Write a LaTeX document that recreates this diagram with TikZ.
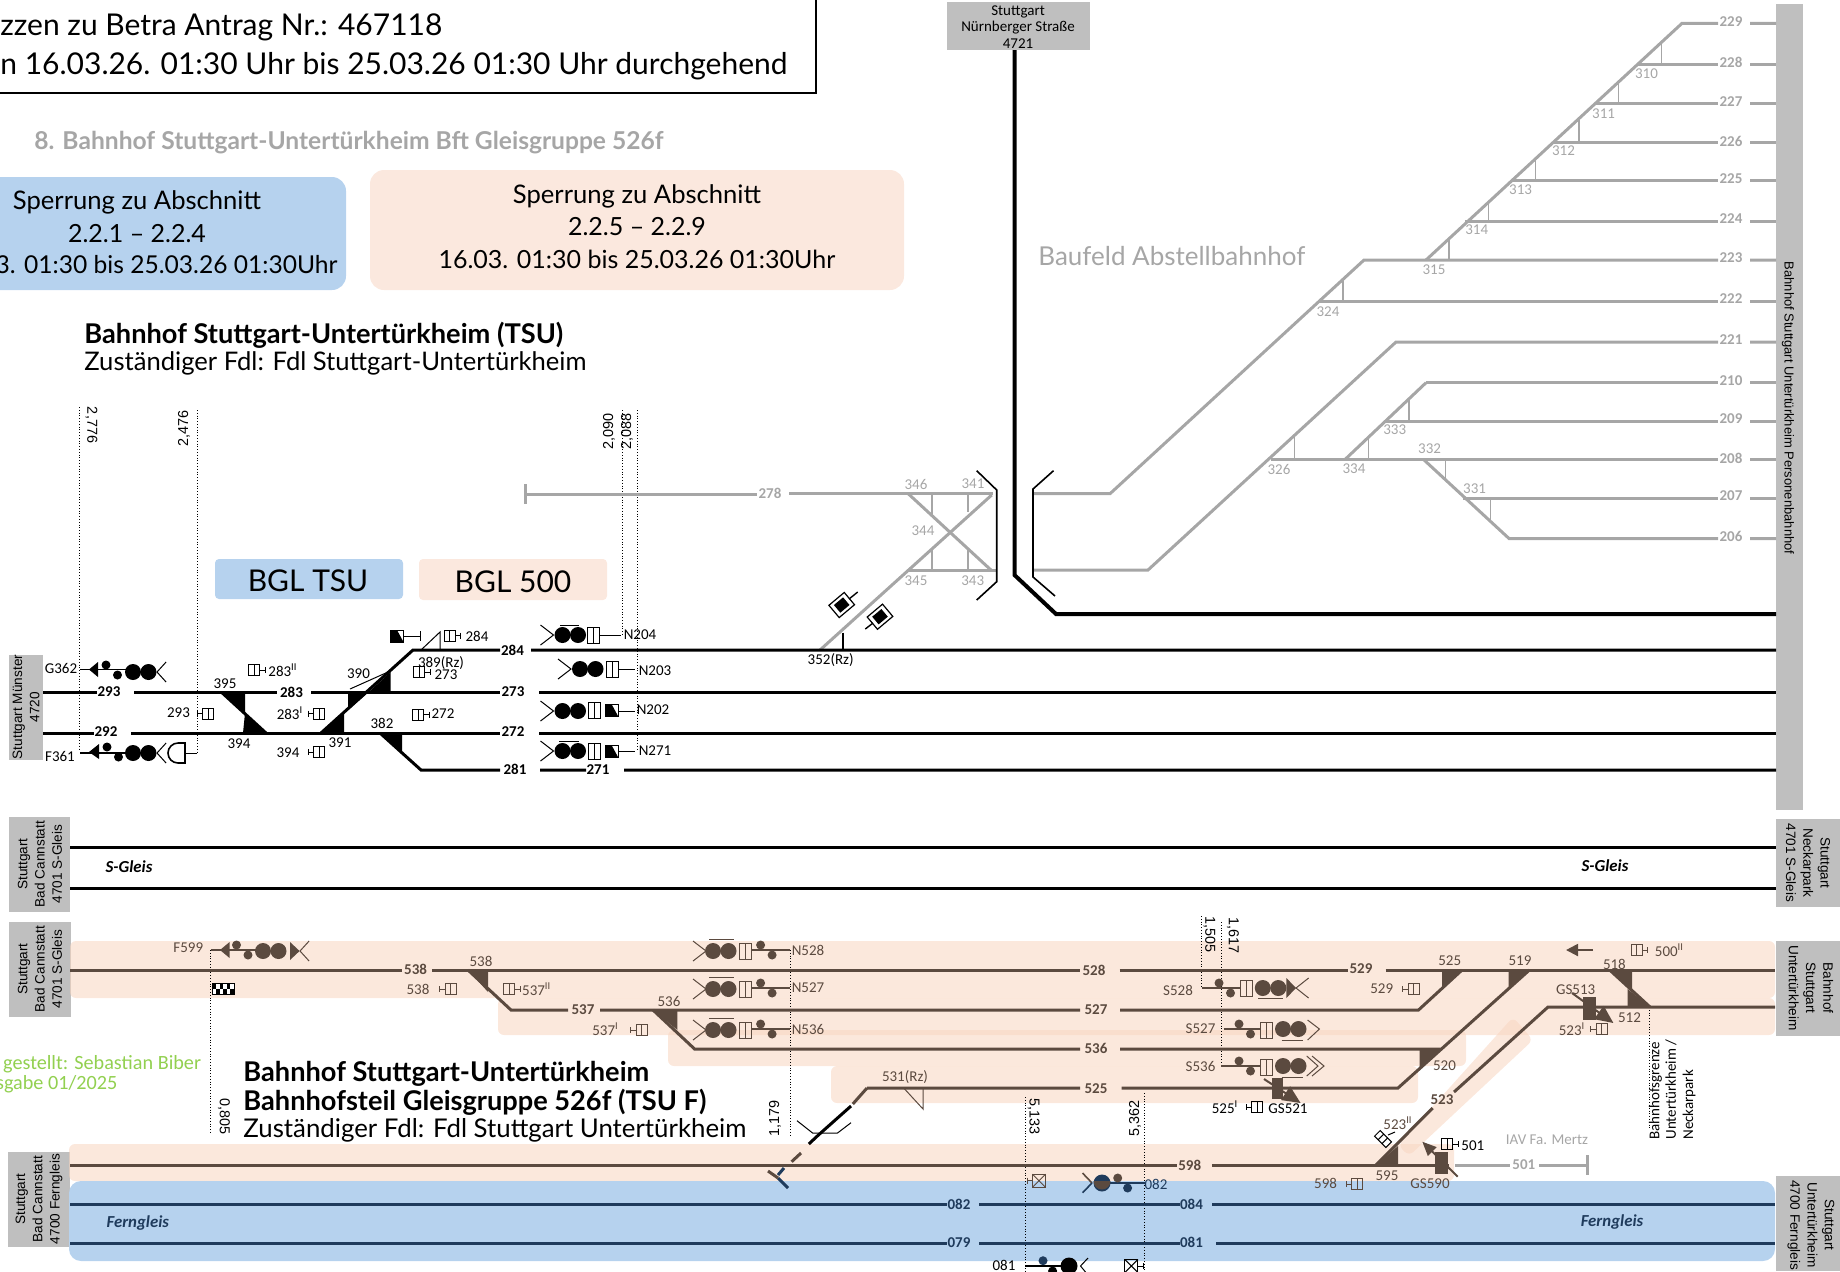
\documentclass[tikz,border=0pt]{standalone}
\usepackage{fontspec}
\setmainfont{Carlito}
\newfontfamily\bodyfont{Lato}
\newfontfamily\boxfont{Liberation Sans}
\usetikzlibrary{arrows.meta}

\definecolor{railgray}{HTML}{A6A6A6}
\definecolor{boxgray}{HTML}{BFBFBF}
\definecolor{railbrown}{HTML}{5B4A3F}
\definecolor{railnavy}{HTML}{1F3B5C}
\definecolor{skyband}{HTML}{B6D2EE}
\definecolor{peachband}{HTML}{F8D5C0}
\definecolor{peachbox}{HTML}{FBE8DE}
\definecolor{authorgreen}{HTML}{92D050}

\tikzset{
  trk/.style={line width=1.5pt},
  thinl/.style={line width=.5pt},
  km/.style={line width=.4pt,densely dotted},
  band/.style={fill=peachband,opacity=.55,rounded corners=3pt},
  lab/.style={inner sep=0pt,font=\fontsize{7.5}{8}\selectfont},
  kmlab/.style={lab,font=\boxfont\fontsize{7.2}{8}\selectfont},
  grayb/.style={fill=boxgray,draw=none},
  sidetxt/.style={inner sep=0pt,align=center,font=\boxfont\fontsize{6.8}{8.6}\selectfont},
  trackit/.style={font=\fontsize{8.4}{9}\selectfont\bfseries\itshape},
  pics/gbox/.style={code={
    \draw[thinl] (-5.5,-5.5) rectangle (5.5,5.5);
    \draw[thinl] (0,-5.5) -- (0,5.5);
    \draw[thinl] (5.5,0) -- (11,0);
    \draw[thinl] (11,-3) -- (11,3);
  }},
  pics/xbox/.style={code={
    \draw[thinl] (-6.5,-6.5) rectangle (6.5,6.5);
    \draw[thinl] (-6.5,-6.5) -- (6.5,6.5) (-6.5,6.5) -- (6.5,-6.5);
    \draw[thinl] (6.5,0) -- (12,0);
    \draw[thinl] (12,-3) -- (12,3);
  }},
  pics/sigbox/.style={code={
    \draw[thinl] (-6,-8) rectangle (6,8);
    \draw[thinl] (0,-8) -- (0,8);
  }},
  pics/halfbox/.style={code={
    \draw[thinl] (-6.5,-6) rectangle (6.5,6);
    \fill (-6.5,-6) -- (0,-6) -- (6.5,6) -- (-6.5,6) -- cycle;
  }},
  pics/fork/.style={code={
    \draw[thinl] (-13,-10) -- (0,0) -- (-13,10);
  }},
  pics/heads/.style={code={
    \fill (0,0) circle[radius=8];
    \fill (15.5,0) circle[radius=8];
  }},
  pics/duo/.style={code={
    \fill (0,-5) circle[radius=4.5];
    \fill (11.5,5) circle[radius=4.5];
  }},
  pics/rhomb/.style={code={
    \draw[line width=.6pt,fill=white,rotate=40] (-10,-8) rectangle (10,8);
    \fill[rotate=40] (-6,-5) rectangle (6,5);
  }},
}

\begin{document}
\begin{tikzpicture}[x=.5pt,y=-.5pt]
\useasboundingbox (0,0) rectangle (1840,1271);

% header
\draw[thinl,line width=.6pt] (-5,-5) -- (816,-5) -- (816,93) -- (-5,93);
\node[anchor=west,inner sep=0pt,font=\bodyfont\fontsize{15}{16}\selectfont] (h1) at (0,27) {zzen zu Betra Antrag Nr.: 467118};
\node[anchor=west,inner sep=0pt,font=\bodyfont\fontsize{15}{16}\selectfont] (h2) at (0,66) {n 16.03.26. 01:30 Uhr bis 25.03.26 01:30 Uhr durchgehend};
\node[anchor=west,inner sep=0pt,text=railgray,font=\bodyfont\bfseries\fontsize{12.3}{13}\selectfont] (h3) at (34,143) {8. Bahnhof Stuttgart-Untertürkheim Bft Gleisgruppe 526f};
\fill[skyband,rounded corners=7pt] (-20,177) rectangle (346,290);
\fill[peachbox,rounded corners=7pt] (370,170) rectangle (904,290);
\node[inner sep=0pt,font=\bodyfont\fontsize{12.8}{14}\selectfont] (s1) at (137,202) {Sperrung zu Abschnitt};
\node[inner sep=0pt,font=\bodyfont\fontsize{12.5}{14}\selectfont] (s2) at (137,234) {2.2.1 – 2.2.4};
\node[anchor=east,inner sep=0pt,font=\bodyfont\fontsize{12.3}{14}\selectfont] (s3) at (338,265) {3. 01:30 bis 25.03.26 01:30Uhr};
\node[inner sep=0pt,font=\bodyfont\fontsize{12.8}{14}\selectfont] (p1) at (637,196) {Sperrung zu Abschnitt};
\node[inner sep=0pt,font=\bodyfont\fontsize{12.5}{14}\selectfont] (p2) at (637,227) {2.2.5 – 2.2.9};
\node[inner sep=0pt,font=\bodyfont\fontsize{12.5}{14}\selectfont] (p3) at (637,259) {16.03. 01:30 bis 25.03.26 01:30Uhr};
\node[anchor=west,inner sep=0pt,font=\bodyfont\bfseries\fontsize{13.6}{15}\selectfont] (t1) at (84,335) {Bahnhof Stuttgart-Untertürkheim (TSU)};
\node[anchor=west,inner sep=0pt,font=\bodyfont\fontsize{12.8}{14}\selectfont] (t2) at (84,363) {Zuständiger Fdl: Fdl Stuttgart-Untertürkheim};
\node[anchor=west,inner sep=0pt,text=railgray,font=\bodyfont\fontsize{13}{14}\selectfont] (baufeld) at (1038,256) {Baufeld Abstellbahnhof};

% BGL tags
\fill[skyband,rounded corners=2pt] (215,559) rectangle (403,599);
\fill[peachbox,rounded corners=2pt] (419,559) rectangle (607,600);
\node[inner sep=0pt,font=\bodyfont\fontsize{15}{16}\selectfont] (bgl1) at (308,581) {BGL TSU};
\node[inner sep=0pt,font=\bodyfont\fontsize{15}{16}\selectfont] (bgl2) at (513,582) {BGL 500};

% station boxes
\fill[grayb] (9,655) rectangle (43,760);
\fill[grayb] (9,817) rectangle (70,912);
\fill[grayb] (9,922) rectangle (71,1017);
\fill[grayb] (8,1152) rectangle (70,1247);
\fill[grayb] (947,2) rectangle (1090,50);
\fill[grayb] (1776,4) rectangle (1803,810);
\fill[grayb] (1776,819) rectangle (1840,907);
\fill[grayb] (1776,941) rectangle (1840,1036);
\fill[grayb] (1776,1176) rectangle (1840,1271);
\node[sidetxt,rotate=90] (bmuenster) at (26,707) {Stuttgart Münster\\4720};
\node[sidetxt,rotate=90] (bcann1) at (40,864) {Stuttgart\\Bad Cannstatt\\4701 S-Gleis};
\node[sidetxt,rotate=90] (bcann2) at (40,969) {Stuttgart\\Bad Cannstatt\\4701 S-Gleis};
\node[sidetxt,rotate=90] (bcann3) at (39,1199) {Stuttgart\\Bad Cannstatt\\4700 Ferngleis};
\node[sidetxt,font=\fontsize{7.5}{8.2}\selectfont] (bnuern) at (1018,27) {Stuttgart\\Nürnberger Straße\\4721};
\node[sidetxt,rotate=-90,font=\boxfont\fontsize{6.5}{7}\selectfont] (bperson) at (1788,408) {Bahnhof Stuttgart Untertürkheim Personenbahnhof};
\node[sidetxt,rotate=-90] (bneck) at (1808,863) {Stuttgart\\Neckarpark\\4701 S-Gleis};
\node[sidetxt,rotate=-90] (bunter) at (1811,988) {Bahnhof\\Stuttgart\\Untertürkheim};
\node[sidetxt,rotate=-90] (bfern) at (1811,1225) {Stuttgart\\Untertürkheim\\4700 Ferngleis};

% bands
\fill[band] (70,941) rectangle (1775,998);
\fill[band] (498,998) rectangle (1775,1035);
\fill[band] (668,1030) rectangle (1466,1066);
\fill[band] (831,1066) rectangle (1418,1103);
\fill[band] (69,1144) rectangle (1454,1181);
\fill[band] (1398,1145) -- (1513,1017) -- (1533,1040) -- (1409,1156) -- cycle;
\fill[skyband,rounded corners=6pt] (69,1181) rectangle (1775,1261);

% km lines
\draw[km] (79.5,407) -- (79.5,750);
\draw[km] (197,410) -- (197,752);
\draw[km] (622,410) -- (622,635);
\draw[km] (637,410) -- (637,751);
\draw[km] (210.7,950) -- (210.7,1133);
\draw[km] (790.5,950) -- (790.5,1135);
\draw[km] (1201.5,916) -- (1201.5,988);
\draw[km] (1221,922) -- (1221,1066);
\draw[km] (1025,1097) -- (1025,1271);
\draw[km] (1144.8,1093) -- (1144.8,1271);
\draw[km] (1649.8,1007) -- (1649.8,1130);
\node[kmlab,rotate=-90] (k1) at (91.5,425) {2,776};
\node[kmlab,rotate=90] (k2) at (184,428) {2,476};
\node[kmlab,rotate=90] (k3) at (609,431) {2,090};
\node[kmlab,rotate=90] (k4) at (627,431) {2,088};
\node[kmlab,rotate=-90] (k5) at (224,1116) {0,805};
\node[kmlab,rotate=90] (k6) at (775,1118) {1,179};
\node[kmlab,rotate=-90] (k7) at (1209.5,934) {1,505};
\node[kmlab,rotate=-90] (k8) at (1233,935) {1,617};
\node[kmlab,rotate=-90] (k9) at (1033.8,1116) {5,133};
\node[kmlab,rotate=90] (k10) at (1135,1118) {5,362};

% gray yard
\begin{scope}[railgray]
\draw[trk] (525,494) -- (757,494) (789,493.5) -- (993,493.5);
\draw[trk] (525,484) -- (525,504);
\draw[trk] (820,650) -- (991.7,495);
\draw[trk] (908,493.5) -- (991.7,570.7);
\draw[trk] (908,570.7) -- (996.7,570.7);
\draw[thinl,line width=.8pt] (931.7,493) -- (931.7,515) (968,493) -- (968,512) (931.7,570) -- (931.7,550) (968,570) -- (968,550);
\draw[trk] (1034,493.7) -- (1110,493.7) -- (1364,260) -- (1718,260) (1750,260) -- (1776,260);
\draw[trk] (1034,570) -- (1148,570) -- (1396,342) -- (1718,342) (1750,342) -- (1776,342);
\draw[trk] (1426,260) -- (1682,23.3) -- (1718,23.3) (1750,23.3) -- (1776,23.3);
\draw[trk] (1637,64.3) -- (1718,64.3) (1750,64.3) -- (1776,64.3);
\draw[trk] (1596,103.7) -- (1718,103.7) (1750,103.7) -- (1776,103.7);
\draw[trk] (1554,142) -- (1718,142) (1750,142) -- (1776,142);
\draw[trk] (1511.5,180) -- (1718,180) (1750,180) -- (1776,180);
\draw[trk] (1465,221.6) -- (1718,221.6) (1750,221.6) -- (1776,221.6);
\draw[trk] (1320,301) -- (1718,301) (1750,301) -- (1776,301);
\draw[trk] (1426,382.7) -- (1718,382.7) (1750,382.7) -- (1776,382.7);
\draw[trk] (1426,382.7) -- (1345.5,459);
\draw[trk] (1384.6,421) -- (1718,421) (1750,421) -- (1776,421);
\draw[trk] (1270.5,459) -- (1718,459) (1750,459) -- (1776,459);
\draw[trk] (1423,459) -- (1509,538.5) -- (1718,538.5) (1750,538.5) -- (1776,538.5);
\draw[trk] (1463.3,498.7) -- (1718,498.7) (1750,498.7) -- (1776,498.7);
\draw[thinl,line width=.8pt] (1661.5,44) -- (1661.5,64.3) (1618.6,83.4) -- (1618.6,103.7) (1579,118.6) -- (1579,142) (1535.6,158.8) -- (1535.6,180) (1488.5,202) -- (1488.5,221.6) (1449,239) -- (1449,260) (1343,279) -- (1343,301);
\draw[thinl,line width=.8pt] (1294.6,436) -- (1294.6,459) (1368.5,436) -- (1368.5,459) (1408.7,400) -- (1408.7,421) (1445.6,459) -- (1445.6,480) (1490.6,498.7) -- (1490.6,520.5);
\draw[trk] (1455,1165) -- (1510,1165) (1539,1165) -- (1587,1165);
\draw[trk] (1587,1155) -- (1587,1175);
\end{scope}
\begin{scope}[every node/.style={lab,text=railgray}]
\node (g229) at (1731,22) {\textbf{229}};
\node (g228) at (1731,62) {\textbf{228}};
\node (g227) at (1731,102) {\textbf{227}};
\node (g226) at (1731,141) {\textbf{226}};
\node (g225) at (1731,179) {\textbf{225}};
\node (g224) at (1731,219) {\textbf{224}};
\node (g223) at (1731,258) {\textbf{223}};
\node (g222) at (1731,299) {\textbf{222}};
\node (g221) at (1731,340) {\textbf{221}};
\node (g210) at (1731,381) {\textbf{210}};
\node (g209) at (1731,419) {\textbf{209}};
\node (g208) at (1731,458) {\textbf{208}};
\node (g207) at (1731,496) {\textbf{207}};
\node (g206) at (1731,536) {\textbf{206}};
\node (g278) at (770,493) {\textbf{278}};
\node (g346) at (916,484) {346};
\node (g341) at (973,484) {341};
\node (g344) at (923,531) {344};
\node (g345) at (916,581) {345};
\node (g343) at (972.7,581) {343};
\node (g310) at (1646.5,74) {310};
\node (g311) at (1603.6,114) {311};
\node (g312) at (1563.5,151) {312};
\node (g313) at (1520.6,190) {313};
\node (g314) at (1476.7,229.6) {314};
\node (g315) at (1434,269.4) {315};
\node (g324) at (1328,312) {324};
\node (g326) at (1279,469) {326};
\node (g334) at (1354,469) {334};
\node (g333) at (1394.7,430) {333};
\node (g332) at (1429.6,448.5) {332};
\node (g331) at (1474.6,489) {331};
\node (g501) at (1523.8,1165) {\textbf{501}};
\node (giav) at (1547,1140) {IAV Fa. Mertz};
\end{scope}

% black rails
\draw[line width=2pt] (1014.5,50) -- (1014.5,575) -- (1056,614) -- (1776,614);
\draw[thinl,line width=.8pt] (1053.5,470.7) -- (1033,489) -- (1033,577) -- (1055,596);
\draw[thinl,line width=.8pt] (976.7,470.7) -- (996.7,490) -- (996.7,581.7) -- (976.7,600);
\draw[trk] (43,692.7) -- (97,692.7) (134,692.7) -- (277,692.7) (311,692.7) -- (500,692.7) (539,692.7) -- (1776,692.7);
\draw[trk] (43,733) -- (94,733) (131,733) -- (500,733) (539,733) -- (1776,733);
\draw[trk] (321,733) -- (413,650) -- (500,650) (531,650) -- (1776,650);
\draw[trk] (380,733) -- (421,770) -- (500,770) (540,770) -- (586,770) (624,770) -- (1776,770);
\draw[trk] (222,692.7) -- (266,733);
\draw[trk] (70,847) -- (1776,847) (70,888) -- (1776,888);
\fill (222,692.7) -- (245,692.7) -- (245,713) -- cycle;
\fill (245,713) -- (266.5,733) -- (243,733) -- cycle;
\fill (321,733) -- (344,733) -- (344,713) -- cycle;
\fill (348,692.7) -- (368,692.7) -- (348,710) -- cycle;
\fill (368,692.7) -- (390.6,692.7) -- (390.6,672) -- cycle;
\fill (380,733) -- (402,733) -- (402,752) -- cycle;
\draw[thinl] (350,689) -- (388,672);
\draw[thinl] (421,650) -- (440,632) -- (440,650);
\draw[thinl,line width=.8pt] (842.7,632.7) -- (842.7,650);
\pic at (841.7,605) {rhomb};
\draw[thinl,line width=.7pt] (849,599) -- (857.7,592);
\pic at (880,616.7) {rhomb};
\draw[thinl,line width=.7pt] (873,623) -- (865.3,629);

\begin{scope}[every node/.style={lab}]
\node (l293) at (109,692) {\textbf{293}};
\node (l283) at (291.5,692) {\textbf{283}};
\node (l273) at (513,692) {\textbf{273}};
\node (l292) at (106,732) {\textbf{292}};
\node (l272) at (513,732) {\textbf{272}};
\node (l284) at (512.5,650) {\textbf{284}};
\node (l281) at (515,769) {\textbf{281}};
\node (l271) at (598,770) {\textbf{271}};
\node (l395) at (225,684) {395};
\node (l394) at (239,744) {394};
\node (l391) at (340,743) {391};
\node (l390) at (358.5,674) {390};
\node (l389) at (441,663) {389(Rz)};
\node (l382) at (382,723) {382};
\node (l352) at (830.7,660) {352(Rz)};
\node (lg362) at (61,668) {G362};
\node (lf361) at (60,756) {F361};
\node (ln204) at (640,635) {N204};
\node (ln203) at (655,671) {N203};
\node (ln202) at (653,710) {N202};
\node (ln271) at (655,751) {N271};
\node (l283b) [anchor=west] at (268,670) {283\textsuperscript{II}};
\node (l293b) at (178.5,713) {293};
\node (l283c) at (290,713) {283\textsuperscript{I}};
\node (l394b) at (288,753) {394};
\node (l284b) at (477,636) {284};
\node (l273b) at (446,675) {273};
\node (l272b) at (443,714) {272};
\end{scope}

\pic at (254,670) {gbox};
\pic[xscale=-1] at (208,713.5) {gbox};
\pic[xscale=-1] at (319,713.5) {gbox};
\pic[xscale=-1] at (319,752) {gbox};
\pic at (449.5,635.5) {gbox};
\pic at (419,672) {gbox};
\pic at (418,714.5) {gbox};
\pic at (397,636) {halfbox};
\draw[thinl] (403.5,636) -- (420,636) (420,631) -- (420,641);

% exit signals
\draw[thinl,line width=.8pt] (80,669.5) -- (134,669.5);
\fill (89,669.5) -- (98,662) -- (98,677) -- cycle;
\pic at (106,670) {duo};
\pic at (133,672) {heads};
\pic[xscale=-.7] at (157,672) {fork};
\draw[thinl,line width=.8pt] (80,752.7) -- (134,752.7);
\fill (89,752) -- (99,744) -- (99,759) -- cycle;
\pic at (107,752) {duo};
\pic at (133,753) {heads};
\pic[xscale=-.7] at (157,753) {fork};
\draw[thinl,line width=.8pt] (185,743) -- (178,743) arc[start angle=-90,end angle=-270,radius=10] -- (185,763) -- cycle;
\draw[thinl] (185,753) -- (197,753);

% entry signals
\pic at (553.5,635) {fork};
\pic at (562.5,635) {heads};
\draw[thinl] (560,625) -- (579,625);
\pic at (593,635) {sigbox};
\draw[thinl] (599,635) -- (621,635);
\pic at (571,669) {fork};
\pic at (580,669) {heads};
\pic at (612,669) {sigbox};
\draw[thinl] (618,669) -- (635,669);
\pic at (553.5,711) {fork};
\pic at (562.5,711) {heads};
\pic at (594,710) {sigbox};
\pic at (611.5,710) {halfbox};
\draw[thinl] (618,711) -- (635,711);
\pic at (553.5,751) {fork};
\pic at (562.5,751) {heads};
\draw[thinl] (559,741) -- (579,741);
\pic at (594,751) {sigbox};
\pic at (611.5,751) {halfbox};
\draw[thinl] (618,751) -- (635,751);

% navy rails
\begin{scope}[railnavy]
\draw[trk] (70,1204) -- (946.6,1204) (979,1204) -- (1180,1204) (1212,1204) -- (1775,1204);
\draw[trk] (70,1243) -- (946.6,1243) (979,1243) -- (1180,1243) (1216,1243) -- (1775,1243);
\draw[thinl,line width=.8pt] (1102,1183) -- (1144.8,1183);
\fill (1102,1183) circle[radius=8.5];
\fill (1127.6,1188) circle[radius=4.5];
\draw[trk] (778,1175) -- (784,1168);
\draw[trk] (778,1178) -- (788,1188);
\end{scope}
\fill[railbrown] (1093.5,1181) arc[start angle=180,end angle=0,radius=8.5] -- cycle;
\fill[railbrown] (1117.7,1178) circle[radius=4.5];
\draw[railbrown,thinl,line width=.8pt] (1082.5,1173) -- (1092,1183);
\draw[railnavy,thinl,line width=.8pt] (1092,1183) -- (1082.5,1192.7);
\pic[xscale=-1,railbrown] at (1039,1180.7) {xbox};

% brown rails
\begin{scope}[railbrown]
\draw[trk] (70,970) -- (402,970) (432,970) -- (1080,970) (1119.6,970) -- (1348,970) (1385.5,970) -- (1775,970);
\draw[trk] (468,970) -- (511,1010) -- (568,1010) (600,1010) -- (1080,1010) (1120,1010) -- (1418.5,1010) -- (1462,970);
\draw[trk] (653,1010) -- (694.6,1049) -- (1080,1049) (1120,1049) -- (1440.7,1049);
\draw[trk] (867,1088) -- (1080,1088) (1121.5,1088) -- (1398,1088) -- (1529.4,970);
\draw[trk] (867,1088) -- (852.8,1104);
\draw[trk] (70,1165) -- (1177,1165) (1211.8,1165) -- (1449,1165);
\draw[trk] (1376,1165) -- (1432.7,1108) (1454,1092) -- (1548,1007) -- (1775,1007);
\draw[trk] (1609.7,970) -- (1650,1007);
\draw[trk] (801,1153) -- (791.6,1161.7);
\draw[trk] (768,1171) -- (778,1178);
\fill (468,970) -- (488,970) -- (488,992) -- cycle;
\fill (653,1010) -- (677.4,1010) -- (677.4,1030) -- cycle;
\fill (1508.7,970) -- (1529.4,970) -- (1508.7,988) -- cycle;
\fill (1442,970) -- (1462.4,970) -- (1442,988) -- cycle;
\fill (1419.5,1049) -- (1440.7,1049) -- (1419.5,1070) -- cycle;
\fill (1376,1165) -- (1398,1165) -- (1398,1146) -- cycle;
\fill (1609.7,970) -- (1632,970) -- (1632,989) -- cycle;
\fill (1627.6,989) -- (1650,1007) -- (1627.6,1007) -- cycle;
\fill (1582.8,996.7) rectangle (1595.5,1020);
\fill (1272,1078) rectangle (1283,1099);
\fill (1435,1151.7) rectangle (1448,1174);
\draw[thinl,line width=1pt,-{Triangle[length=9pt,width=8pt]}] (1572,993) -- (1613.4,1023);
\draw[thinl,line width=1pt,-{Triangle[length=9pt,width=8pt]}] (1264,1079) -- (1300.6,1103);
\draw[thinl,line width=1pt,-{Triangle[length=7pt,width=6pt]}] (1457.7,1176.7) -- (1422.3,1141.7);
\draw[thinl,line width=1pt,-{Triangle[length=6pt,width=6pt]}] (1593,950) -- (1566,950);
\draw[thinl] (903.7,1088) -- (923,1109) -- (923,1088);
\end{scope}
% black stretch and fork of the stub
\draw[trk] (851,1106) -- (818.4,1135) (818.4,1135) -- (808.8,1144);
\draw[thinl] (797,1120.7) -- (812.6,1133) -- (837.5,1133) -- (851,1122.7);

\begin{scope}[every node/.style={lab,text=railbrown}]
\node (b538) at (415.6,969) {\textbf{538}};
\node (b528) at (1094,970) {\textbf{528}};
\node (b529) at (1361,969) {\textbf{529}};
\node (b537) at (583,1010) {\textbf{537}};
\node (b527) at (1096,1010) {\textbf{527}};
\node (b536) at (1096,1048) {\textbf{536}};
\node (b525) at (1096,1089) {\textbf{525}};
\node (b598) at (1189.7,1165) {\textbf{598}};
\node (b523) at (1442,1100) {\textbf{523}};
\node (s538) at (481,961) {538};
\node (s536) at (669,1001) {536};
\node (s525) at (1449.7,961) {525};
\node (s519) at (1520,961) {519};
\node (s518) at (1614.4,964) {518};
\node (s512) at (1629.5,1018) {512};
\node (s520) at (1444.5,1066) {520};
\node (s595) at (1387,1176) {595};
\node (s531) at (905,1077) {531(Rz)};
\node (gs513) at (1575.7,990) {GS513};
\node (gs590) at (1430,1184) {GS590};
\node (f599) at (188.3,948) {F599};
\node (n528) at (808,950) {N528};
\node (n527) at (808,988) {N527};
\node (n536) at (808,1029) {N536};
\node (s528l) at (1178,990) {S528};
\node (s527l) at (1200.5,1029) {S527};
\node (s536l) at (1200.5,1066) {S536};
\node (q538) at (418,989) {538};
\node (q529) at (1381.7,989) {529};
\node (q537a) at (536.7,989) {537\textsuperscript{II}};
\node (q537b) at (605.6,1029) {537\textsuperscript{I}};
\node (q523a) at (1572,1029) {523\textsuperscript{I}};
\node (q523b) at (1398,1123) {523\textsuperscript{II}};
\node (q598) at (1325.6,1183) {598};
\node (q500) [anchor=west] at (1654.5,950) {500\textsuperscript{II}};
\end{scope}
\begin{scope}[every node/.style={lab}]
\node (q525) at (1225,1107) {525\textsuperscript{I}};
\node (gs521) at (1288,1109) {GS521};
\node (q501) [anchor=west] at (1461,1146) {501};
\node (q081) at (1004,1265) {081};
\node (nb1) [rotate=90,anchor=west] at (1655.4,1140) {Bahnhofsgrenze};
\node (nb2) [rotate=90,anchor=west] at (1671,1140) {Untertürkheim /};
\node (nb3) [rotate=90,anchor=west] at (1689,1140) {Neckarpark};
\node[trackit] (sg1) at (129,867) {S-Gleis};
\node[trackit] (sg2) at (1605,866) {S-Gleis};
\end{scope}
\begin{scope}[every node/.style={lab,text=railnavy}]
\node (f082) at (959,1204) {\textbf{082}};
\node (f084) at (1191.5,1204) {\textbf{084}};
\node (f079) at (959,1243) {\textbf{079}};
\node (f081) at (1191.5,1242) {\textbf{081}};
\node (s082) at (1156,1184) {082};
\node[trackit] (fg1) at (137.8,1223) {Ferngleis};
\node[trackit] (fg2) at (1612,1221.7) {Ferngleis};
\end{scope}

% marker boxes, brown part
\pic[railbrown,xscale=-1] at (450.6,989) {gbox};
\pic[railbrown] at (509,989) {gbox};
\pic[railbrown,xscale=-1] at (641.8,1030) {gbox};
\pic[railbrown,xscale=-1] at (1413.8,989) {gbox};
\pic[railbrown] at (1636.6,950) {gbox};
\pic[railbrown,xscale=-1] at (1601.7,1029) {gbox};
\pic[railbrown,xscale=-1] at (1357,1184) {gbox};
\pic[xscale=-1] at (1257,1107) {gbox};
\pic at (1447,1144) {gbox};
\pic at (1131.4,1266) {xbox};

% signals in the brown bands
\draw[railbrown,thinl,line width=.8pt] (210.7,950) -- (263,950);
\fill[railbrown] (220,950) -- (229.6,942) -- (229.6,958) -- cycle;
\pic[railbrown] at (236.5,950) {duo};
\pic[railbrown] at (263,951) {heads};
\fill[railbrown] (290,942) -- (290,960) -- (299.6,951) -- cycle;
\pic[railbrown,xscale=-.7] at (300,951) {fork};
\foreach \rowy in {950,988,1029}{
  \pic[railbrown] at (706,\rowy+1) {fork};
  \pic[railbrown] at (713,\rowy+1) {heads};
  \draw[railbrown,thinl] (709,\rowy-11) -- (733.6,\rowy-11);
  \draw[railbrown,thinl,line width=.7pt] (751,\rowy) -- (790,\rowy);
  \pic[railbrown] at (745,\rowy+1) {sigbox};
  \pic[railbrown] at (760.6,\rowy) {duo};
}
\begin{scope}[railbrown]
\draw[thinl,line width=.7pt] (1201.5,988) -- (1240,988);
\pic at (1219,988) {duo};
\pic at (1246,988) {sigbox};
\pic at (1262.8,988) {heads};
\draw[thinl] (1258,998.7) -- (1283,998.7);
\fill (1286.4,978) -- (1286.4,998) -- (1296,988) -- cycle;
\draw[thinl] (1308.6,978) -- (1296,988) -- (1308.6,998);
\draw[thinl,line width=.7pt] (1223.6,1029) -- (1260,1029);
\pic at (1239,1029) {duo};
\pic at (1266,1030) {sigbox};
\pic at (1283,1029) {heads};
\draw[thinl] (1281.7,1040) -- (1303,1040);
\draw[thinl] (1307.6,1020) -- (1319.4,1029) -- (1307.6,1040);
\draw[thinl,line width=.7pt] (1221,1066) -- (1260,1066);
\pic at (1239,1066) {duo};
\pic at (1266,1067) {sigbox};
\pic at (1283,1066) {heads};
\draw[thinl] (1281.7,1077) -- (1303,1077);
\draw[thinl] (1306.7,1056) -- (1318,1066) -- (1306.7,1076);
\draw[thinl] (1312,1056) -- (1324,1066) -- (1312,1076);
\end{scope}

% km 0,805 checker
\fill[white] (212.4,983) rectangle (234,994);
\draw[thinl] (212.4,983) rectangle (234,994);
\foreach \cx in {212.4,219.6,226.8}{
  \fill (\cx,983) rectangle ++(3.6,5.5);
  \fill (\cx+3.6,988.5) rectangle ++(3.6,5.5);
}

% hatched diamond 523 II
\begin{scope}[shift={(1383,1139)},rotate=-45]
\draw[thinl,fill=white] (-8,-4) rectangle (8,4);
\draw[thinl] (-3,-4) -- (-3,4) (2.5,-4) -- (2.5,4);
\end{scope}
\draw[thinl] (1388,1135) -- (1395,1132);

% bottom signal 081
\draw[thinl,line width=.8pt] (1025,1266) -- (1071,1266);
\fill[railnavy] (1043,1260.7) circle[radius=4.5];
\fill (1052.6,1271) circle[radius=4.5];
\fill (1069,1266) circle[radius=8.5];
\draw[thinl] (1088,1258) -- (1080.5,1266) -- (1088,1275);

% credit and title
\node[anchor=east,inner sep=0pt,text=authorgreen,font=\fontsize{10.1}{11}\selectfont] (cr1) at (201.5,1064) {gestellt: Sebastian Biber};
\node[anchor=east,inner sep=0pt,text=authorgreen,font=\fontsize{10.1}{11}\selectfont] (cr2) at (117.7,1084) {sgabe 01/2025};
\node[anchor=west,inner sep=0pt,font=\bodyfont\bfseries\fontsize{13.6}{15}\selectfont] (tf1) at (243,1074) {Bahnhof Stuttgart-Untertürkheim};
\node[anchor=west,inner sep=0pt,font=\bodyfont\bfseries\fontsize{13.6}{15}\selectfont] (tf2) at (243,1102) {Bahnhofsteil Gleisgruppe 526f (TSU F)};
\node[anchor=west,inner sep=0pt,font=\bodyfont\fontsize{12.9}{14}\selectfont] (tf3) at (243,1130) {Zuständiger Fdl: Fdl Stuttgart Untertürkheim};
\end{tikzpicture}
\end{document}
